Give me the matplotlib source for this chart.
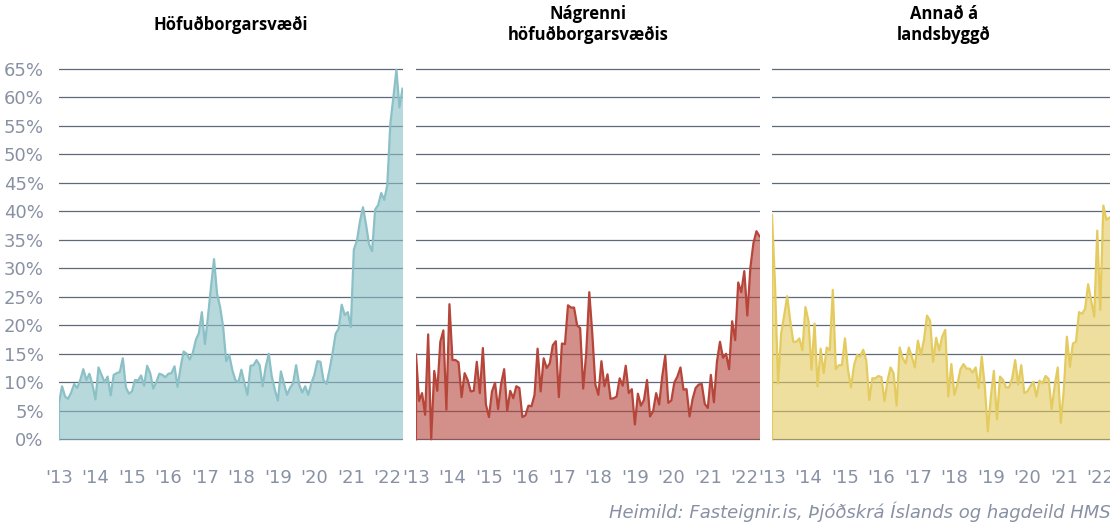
import numpy as np
import matplotlib
matplotlib.use("Agg")
import matplotlib.pyplot as plt

# monthly values, Jan 2013 - Jun 2022 (%)
hofudborg = [6.4, 9.3, 7.5, 7.1, 8.2, 9.7, 9.0, 10.4, 12.3, 10.4, 11.5, 9.6,
             7.0, 12.6, 11.3, 10.0, 11.0, 7.7, 11.3, 11.6, 11.8, 14.2, 9.1, 8.0,
             8.4, 10.4, 10.3, 11.2, 9.4, 12.9, 11.6, 8.9, 10.0, 11.5, 11.3, 10.9,
             11.5, 11.6, 12.8, 9.2, 12.6, 15.4, 15.0, 14.0, 15.1, 17.4, 18.6, 22.3,
             16.7, 21.5, 26.7, 31.6, 25.5, 23.2, 19.7, 13.7, 14.8, 12.2, 10.4, 10.0,
             12.2, 9.9, 7.8, 12.9, 13.0, 13.9, 13.0, 9.3, 12.7, 15.0, 11.0, 8.7,
             6.8, 11.9, 9.8, 7.8, 9.0, 9.8, 13.0, 9.6, 8.2, 9.3, 7.8, 9.8,
             11.3, 13.7, 13.6, 10.4, 9.7, 12.2, 15.1, 18.5, 19.4, 23.6, 21.8, 22.3,
             19.7, 33.3, 34.8, 38.2, 40.7, 37.7, 34.2, 33.0, 40.3, 41.1, 43.2, 42.0,
             44.6, 55.3, 60.0, 64.8, 58.2, 61.5]

nagrenni = [14.9, 6.7, 8.1, 4.3, 18.4, 0.0, 12.0, 8.5, 17.1, 19.1, 5.2, 23.7,
            13.9, 13.9, 13.5, 7.4, 11.6, 10.4, 8.4, 8.5, 13.6, 8.1, 16.0, 6.1,
            3.9, 8.4, 9.9, 5.3, 9.7, 12.3, 5.0, 8.5, 7.2, 9.3, 9.0, 3.9,
            4.2, 5.9, 5.8, 7.8, 15.9, 8.4, 14.2, 12.5, 13.3, 16.5, 17.2, 7.4,
            16.8, 16.7, 23.5, 23.1, 23.1, 20.0, 19.5, 8.9, 15.1, 25.8, 18.5, 9.6,
            7.8, 13.7, 9.3, 11.4, 7.1, 7.2, 7.5, 10.7, 9.4, 12.9, 8.1, 8.8,
            2.6, 8.0, 5.9, 6.9, 10.4, 4.0, 4.9, 8.1, 6.1, 11.0, 14.7, 6.4,
            6.8, 10.0, 11.0, 12.6, 8.7, 8.8, 4.0, 7.1, 9.0, 9.6, 9.7, 6.2,
            5.5, 11.3, 6.5, 13.6, 17.1, 14.3, 15.0, 12.3, 20.7, 17.4, 27.5, 25.8,
            29.5, 21.7, 30.1, 34.4, 36.5, 35.6]

landsbyggd = [39.4, 27.0, 9.8, 18.5, 21.7, 25.1, 20.8, 17.1, 17.1, 17.7, 15.6, 23.2,
              20.8, 12.2, 20.3, 9.3, 15.9, 11.6, 16.1, 15.6, 26.2, 12.3, 13.0, 13.0,
              17.7, 12.2, 9.1, 13.0, 14.8, 14.5, 15.7, 13.9, 6.9, 10.7, 10.7, 11.1,
              10.9, 6.7, 10.3, 12.6, 11.6, 5.9, 16.1, 14.2, 13.3, 16.1, 14.5, 12.6,
              17.3, 14.8, 17.5, 21.7, 20.8, 13.6, 17.8, 15.6, 18.0, 19.2, 7.5, 13.2,
              7.8, 9.7, 12.3, 13.2, 12.4, 12.4, 11.7, 12.6, 9.0, 14.5, 9.3, 1.4,
              7.5, 12.0, 3.5, 11.0, 10.4, 9.1, 9.1, 10.7, 13.9, 9.6, 13.0, 8.1,
              8.4, 9.3, 10.1, 7.5, 10.3, 9.8, 11.1, 10.6, 5.3, 9.4, 12.6, 2.9,
              8.7, 18.0, 12.7, 16.8, 17.1, 22.3, 22.0, 22.9, 27.2, 24.3, 21.5, 36.6,
              22.7, 41.0, 38.5, 38.9, 39.0, 38.5]

titles = ["Höfuðborgarsvæði", "Nágrenni\nhöfuðborgarsvæðis", "Annað á\nlandsbyggð"]
colors = ["#8ac0c6", "#b6453a", "#e4cb5f"]
year_labels = ["'13", "'14", "'15", "'16", "'17", "'18", "'19", "'20", "'21", "'22"]
y_ticks = list(range(0, 70, 5))
source = "Heimild: Fasteignir.is, Þjóðskrá Íslands og hagdeild HMS"

W, H = 1110, 528
fig = plt.figure(figsize=(W / 100, H / 100), dpi=100)

tick_col = "#8891a3"
grid_col = "#5d6878"
lefts = [59, 416, 772]
pw = 343.5
ylo, yhi = -0.4, 65.4
px_per = 5.70
top_px = 68.7 - (yhi - 65) * px_per
bot_px = 439.3 + (0 - ylo) * px_per

for i, (vals, title, col) in enumerate(zip([hofudborg, nagrenni, landsbyggd], titles, colors)):
    ax = fig.add_axes([lefts[i] / W, 1 - bot_px / H, pw / W, (bot_px - top_px) / H])
    x = np.arange(len(vals))
    y = np.array(vals)
    ax.fill_between(x, 0, y, color=col, alpha=0.6, lw=0, zorder=2)
    ax.plot(np.r_[x[0], x], np.r_[0, y], color=col, lw=1.6, zorder=3,
            solid_joinstyle="round")
    ax.set_xlim(0, len(vals) - 1)
    ax.set_ylim(ylo, yhi)
    ax.set_yticks(y_ticks)
    ax.yaxis.grid(True, color=grid_col, lw=0.9, zorder=1)
    ax.set_axisbelow(True)
    for s in ax.spines.values():
        s.set_visible(False)
    ax.set_xticks(np.arange(0, len(vals), 12))
    ax.set_xticklabels(year_labels, fontsize=13, color=tick_col, family="DejaVu Sans")
    ax.tick_params(axis="x", length=0, pad=19.5)
    if i == 0:
        ax.set_yticklabels([f"{t}%" for t in y_ticks], fontsize=13, color=tick_col,
                           family="DejaVu Sans")
        ax.tick_params(axis="y", length=0, pad=11)
    else:
        ax.tick_params(axis="y", length=0, labelleft=False)
    cx = (lefts[i] + pw / 2) / W
    fig.text(cx, 1 - 24.5 / H, title, ha="center", va="center", fontsize=12,
             fontweight="bold", family="Open Sans", linespacing=1.15)

fig.text(609 / W, 1 - 512 / H, source, ha="left", va="center", fontsize=13,
         style="italic", color=tick_col, family="DejaVu Sans")

fig.savefig("out.png", dpi=100)
